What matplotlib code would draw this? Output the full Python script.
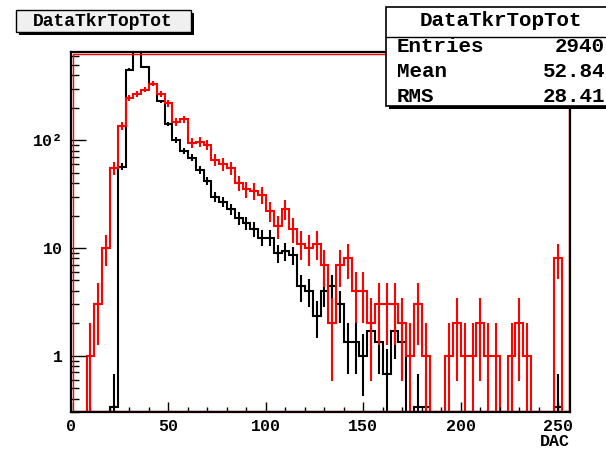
import numpy as np
import matplotlib.pyplot as plt
from matplotlib.patches import Rectangle
from matplotlib.ticker import FixedLocator, FixedFormatter, NullFormatter

plt.rcParams['font.family'] = ['Liberation Mono', 'DejaVu Sans']
plt.rcParams['font.weight'] = 'bold'

# 64 bins of 4 DAC over 0..256
bin_edges = np.arange(0, 257, 4)

# red histogram (raw counts)
red_counts = [0, 0, 1, 3, 10, 55, 137, 248, 270, 296, 335, 270, 220, 148, 156,
              95, 97, 91, 66, 60, 55, 40, 35, 34, 31,
              22, 16, 23, 15, 11, 10, 11, 7, 2, 7, 8, 4, 4, 2,
              3, 3, 3, 2, 1, 3, 1, 0, 0, 1, 2, 1, 1, 2, 1, 1, 0, 1, 2, 1,
              0, 0, 0, 8, 0]

# black histogram (scaled, one entry ~ 0.336)
black_weight = 0.336
black_values = [0, 0, 0, 0, 0, 0.336, 57, 454, 800, 478, 335, 230, 142, 101,
                79, 69, 53, 42, 30, 27, 23, 19, 17, 15, 12.5,
                12.5, 9.0, 9.3, 8.6, 4.4, 4.0, 2.35, 4.0, 4.4, 3.0, 1.34,
                1.34, 1.0, 1.68, 1.34, 0.67, 1.68, 1.34, 0, 0.336, 0.336,
                0, 0, 0, 0, 0, 0, 0, 0, 0, 0, 0, 0, 0, 0, 0, 0,
                0.336, 0]

stats_title = 'DataTkrTopTot'
stats_rows = [('Entries', '2940'), ('Mean', '52.84'), ('RMS', '28.41')]

W, H = 606, 451
YMIN, YMAX = 0.3, 660
FLOOR = 1e-2


def draw_hist(ax, values, errors, color):
    """Step outline plus vertical error bars, ROOT style."""
    values = np.asarray(values, dtype=float)
    shown = np.where(values > 0, values, FLOOR)
    ax.stairs(shown, bin_edges, color=color, lw=1.5, baseline=None)
    centers = 0.5 * (bin_edges[:-1] + bin_edges[1:])
    mask = values > 0
    lo = np.maximum(values - errors, FLOOR)
    hi = values + errors
    ax.vlines(centers[mask], lo[mask], hi[mask], color=color, lw=1.5)


def fig_rect(x0, y0, x1, y1, **kw):
    """Rectangle in figure pixel coordinates (y down from the top)."""
    r = Rectangle((x0 / W, 1 - y1 / H), (x1 - x0) / W, (y1 - y0) / H,
                  transform=fig.transFigure, **kw)
    fig.add_artist(r)
    return r


fig = plt.figure(figsize=(W / 100, H / 100), dpi=100)
ax = fig.add_axes([71 / W, 1 - 412 / H, 499 / W, 360 / H])

black = np.asarray(black_values, dtype=float)
red = np.asarray(red_counts, dtype=float)
draw_hist(ax, black, np.sqrt(black * black_weight), 'black')
draw_hist(ax, red, np.sqrt(red), 'red')

ax.set_yscale('log')
ax.set_xlim(0, 256)
ax.set_ylim(YMIN, YMAX)

# red frame of the second histogram, just inside the black one
dx, dy = 1.5 / 499, 1.5 / 360
ax.add_patch(Rectangle((dx, dy), 1 - 2 * dx, 1 - 2 * dy, transform=ax.transAxes,
                       fill=False, ec='red', lw=1.0, zorder=2))
for sp in ax.spines.values():
    sp.set_linewidth(1.6)
    sp.set_zorder(3)

# ticks
ax.xaxis.set_major_locator(FixedLocator(np.arange(0, 251, 50)))
ax.xaxis.set_minor_locator(FixedLocator(np.arange(0, 256, 10)))
ax.yaxis.set_major_locator(FixedLocator([1, 10, 100]))
ax.yaxis.set_major_formatter(FixedFormatter(['1', '10', '10²']))
minors = [m * 10.0 ** e for e in (-1, 0, 1, 2) for m in range(2, 10)]
ax.yaxis.set_minor_locator(FixedLocator(minors))
ax.yaxis.set_minor_formatter(NullFormatter())
ax.tick_params(axis='x', which='major', direction='in', length=7, width=1,
               labelsize=12, pad=5)
ax.tick_params(axis='x', which='minor', direction='in', length=3.6, width=1)
ax.tick_params(axis='y', which='major', direction='in', length=11, width=1,
               labelsize=12, pad=6)
ax.tick_params(axis='y', which='minor', direction='in', length=5.8, width=1)
for lab in ax.get_xticklabels() + ax.get_yticklabels():
    lab.set_fontweight('bold')

fig.text(570 / W, 1 - 442 / H, 'DAC', ha='right', va='center',
         fontsize=12, fontweight='bold')

# title box with shadow
fig_rect(19, 13, 194, 35, fc='black', ec='none')
fig_rect(16, 10, 191, 32, fc='#f0f0f0', ec='black', lw=1.0)
fig.text(103 / W, 1 - 21 / H, stats_title, ha='center', va='center',
         fontsize=13, fontweight='bold')

# stats box
fig_rect(389, 10, 620, 109, fc='black', ec='none')
fig_rect(386, 7, 620, 106, fc='white', ec='black', lw=1.2)
fig.add_artist(plt.Line2D([386 / W, 1], [1 - 36.5 / H, 1 - 36.5 / H],
                          transform=fig.transFigure, color='black', lw=1.0))
fig.text(501 / W, 1 - 20 / H, stats_title, ha='center', va='center',
         fontsize=15, fontweight='bold')
for i, (name, val) in enumerate(stats_rows):
    yy = 1 - (47 + 24.5 * i) / H
    fig.text(397 / W, yy, name, ha='left', va='center', fontsize=15,
             fontweight='bold')
    fig.text(605 / W, yy, val, ha='right', va='center', fontsize=15,
             fontweight='bold')

fig.savefig('out.png', dpi=100)
